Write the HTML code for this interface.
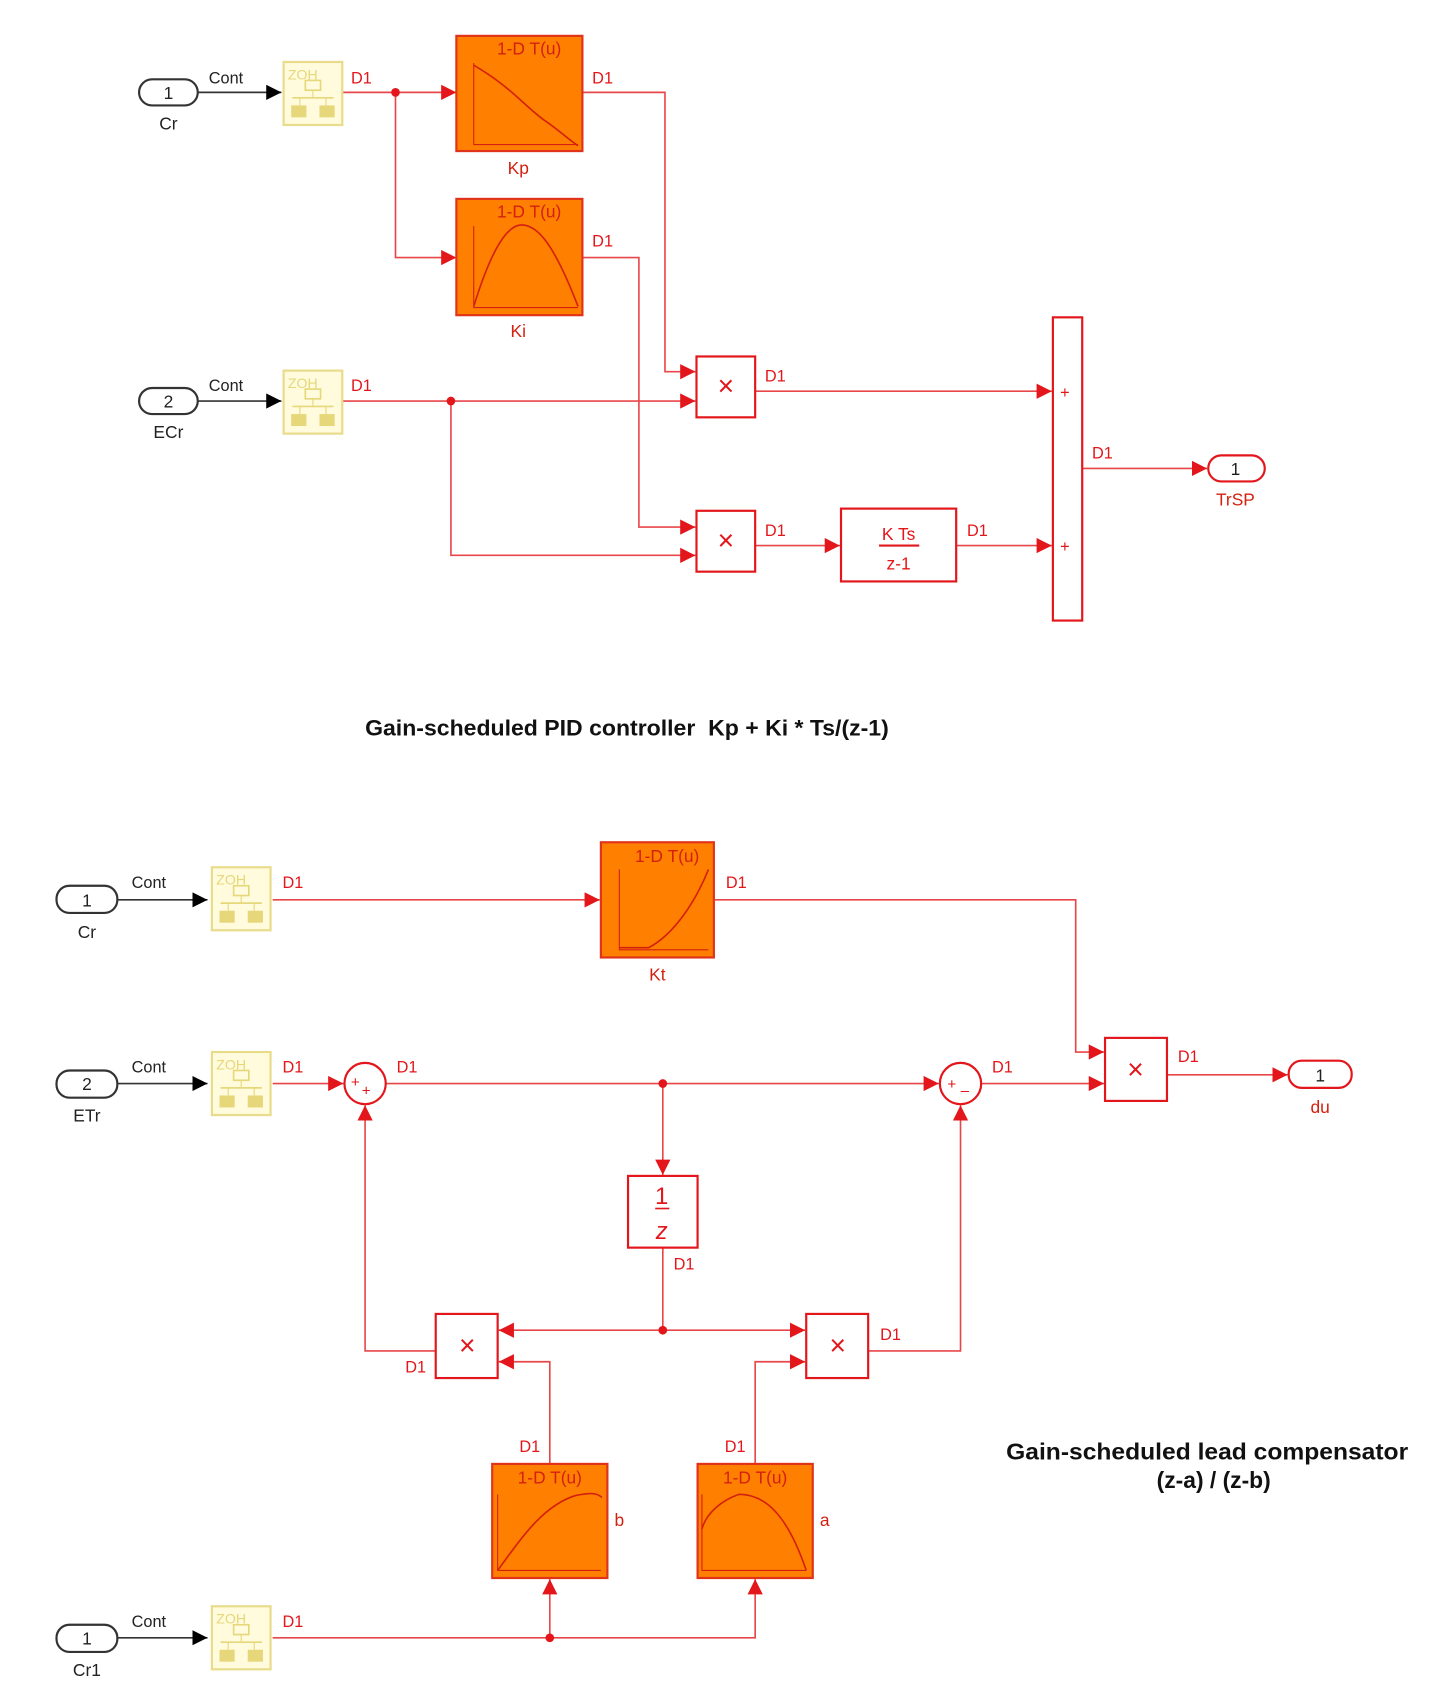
<!DOCTYPE html>
<html><head><meta charset="utf-8"><style>
html,body{margin:0;padding:0;background:#fff;}
svg{display:block;}
text{font-family:"Liberation Sans",sans-serif;}
</style></head><body>
<svg width="1456" height="1703" viewBox="0 0 1340 1567" preserveAspectRatio="none" xmlns="http://www.w3.org/2000/svg">
<defs>
<marker id="ar" viewBox="0 0 10 10" refX="10" refY="5" markerWidth="14" markerHeight="14" markerUnits="userSpaceOnUse" orient="auto"><path d="M0,0 L10,5 L0,10 z" fill="#e3161b"/></marker>
<marker id="ab" viewBox="0 0 10 10" refX="10" refY="5" markerWidth="14" markerHeight="14" markerUnits="userSpaceOnUse" orient="auto"><path d="M0,0 L10,5 L0,10 z" fill="#000"/></marker>
<g id="zoh">
<rect x="0" y="0" width="54" height="58" fill="#fffbdc" stroke="#e8dc8a" stroke-width="2"/>
<text x="4" y="16" font-size="13" fill="#e6d77a">ZOH</text>
<rect x="20" y="17" width="14" height="9" fill="none" stroke="#e6d77a" stroke-width="1.5"/>
<line x1="27" y1="26" x2="27" y2="33" stroke="#e6d77a"/>
<line x1="8" y1="33" x2="46" y2="33" stroke="#e6d77a" stroke-width="1.5"/>
<line x1="15" y1="33" x2="15" y2="40" stroke="#e6d77a"/><line x1="39" y1="33" x2="39" y2="40" stroke="#e6d77a"/>
<rect x="7" y="40" width="14" height="11" fill="#e6d77a"/><rect x="33" y="40" width="14" height="11" fill="#e6d77a"/>
</g>
</defs>
<g fill="none" stroke="#e8474a" stroke-width="1.5">
<path d="M315,85 H420" marker-end="url(#ar)"/>
<path d="M364,85 V237 H420" marker-end="url(#ar)"/>
<path d="M536,85 H612 V342 H640" marker-end="url(#ar)"/>
<path d="M536,237 H588 V485 H640" marker-end="url(#ar)"/>
<path d="M315,369 H640" marker-end="url(#ar)"/>
<path d="M415,369 V511 H640" marker-end="url(#ar)"/>
<path d="M695,360 H968" marker-end="url(#ar)"/>
<path d="M695,502 H773" marker-end="url(#ar)"/>
<path d="M880,502 H968" marker-end="url(#ar)"/>
<path d="M996,431 H1111" marker-end="url(#ar)"/>
<path d="M251,828 H552" marker-end="url(#ar)"/>
<path d="M657,828 H990 V968 H1016" marker-end="url(#ar)"/>
<path d="M251,997 H316" marker-end="url(#ar)"/>
<path d="M355,997 H864" marker-end="url(#ar)"/>
<path d="M610,997 V1081" marker-end="url(#ar)"/>
<path d="M903,997 H1016" marker-end="url(#ar)"/>
<path d="M1074,989 H1185" marker-end="url(#ar)"/>
<path d="M610,1148 V1224 H459" marker-end="url(#ar)"/>
<path d="M610,1224 H741" marker-end="url(#ar)"/>
<path d="M401,1243 H336 V1017" marker-end="url(#ar)"/>
<path d="M799,1243 H884 V1017" marker-end="url(#ar)"/>
<path d="M506,1347 V1253 H459" marker-end="url(#ar)"/>
<path d="M695,1347 V1253 H741" marker-end="url(#ar)"/>
<path d="M251,1507 H695 V1453" marker-end="url(#ar)"/>
<path d="M506,1507 V1453" marker-end="url(#ar)"/>
</g>
<g fill="none" stroke="#333" stroke-width="1.5">
<path d="M182,85 H259" marker-end="url(#ab)"/>
<path d="M182,369 H259" marker-end="url(#ab)"/>
<path d="M108,828 H191" marker-end="url(#ab)"/>
<path d="M108,997 H191" marker-end="url(#ab)"/>
<path d="M108,1507 H191" marker-end="url(#ab)"/>
</g>
<g fill="#e3161b">
<circle cx="364" cy="85" r="4"/><circle cx="415" cy="369" r="4"/>
<circle cx="610" cy="997" r="4"/><circle cx="610" cy="1224" r="4"/><circle cx="506" cy="1507" r="4"/>
</g>
<g stroke="#333" stroke-width="2" fill="#fff">
<rect x="128" y="73" width="54" height="24" rx="12"/>
<rect x="128" y="357" width="54" height="24" rx="12"/>
<rect x="52" y="815" width="56" height="25" rx="12"/>
<rect x="52" y="985" width="56" height="25" rx="12"/>
<rect x="52" y="1495" width="56" height="25" rx="12"/>
</g>
<g stroke="#e3161b" stroke-width="2" fill="#fff">
<rect x="1112" y="419" width="52" height="24" rx="12"/>
<rect x="1186" y="976" width="58" height="25" rx="12"/>
</g>
<g font-size="16" fill="#222" text-anchor="middle">
<text x="155" y="91">1</text><text x="155" y="119">Cr</text>
<text x="155" y="375">2</text><text x="155" y="403">ECr</text>
<text x="80" y="834">1</text><text x="80" y="863">Cr</text>
<text x="80" y="1003">2</text><text x="80" y="1032">ETr</text>
<text x="80" y="1513">1</text><text x="80" y="1542">Cr1</text>
<text x="208" y="77" font-size="15">Cont</text><text x="208" y="360" font-size="15">Cont</text>
<text x="137" y="817" font-size="15">Cont</text><text x="137" y="987" font-size="15">Cont</text><text x="137" y="1497" font-size="15">Cont</text>
</g>
<use href="#zoh" x="261" y="57"/><use href="#zoh" x="261" y="341"/>
<use href="#zoh" x="195" y="798"/><use href="#zoh" x="195" y="968"/><use href="#zoh" x="195" y="1478"/>
<g stroke="#e0331a" stroke-width="2" fill="#ff8000">
<rect x="420" y="33" width="116" height="106"/>
<rect x="420" y="183" width="116" height="107"/>
<rect x="553" y="775" width="104" height="106"/>
<rect x="453" y="1347" width="106" height="105"/>
<rect x="642" y="1347" width="106" height="105"/>
</g>
<g fill="none" stroke="#d42010" stroke-width="1.5">
<path d="M436,58 V133 H532" stroke-width="1"/><path d="M436,60 C470,80 480,95 500,110 C515,120 525,130 532,134"/>
<path d="M436,208 V283 H532" stroke-width="1"/><path d="M436,282 C455,220 470,207 480,207 C495,207 510,225 532,282"/>
<path d="M570,800 V874 H652" stroke-width="1"/><path d="M570,872 H597 C620,860 640,830 652,800"/>
<path d="M458,1375 V1445 H553" stroke-width="1"/><path d="M458,1445 C480,1415 500,1385 530,1376 C545,1373 550,1374 554,1378"/>
<path d="M646,1375 V1445 H742" stroke-width="1"/><path d="M646,1407 C650,1392 665,1380 680,1375 C705,1375 725,1395 742,1445"/>
</g>
<g font-size="16" fill="#d42010" text-anchor="middle">
<text x="487" y="50">1-D T(u)</text><text x="487" y="200">1-D T(u)</text>
<text x="614" y="793">1-D T(u)</text><text x="506" y="1365">1-D T(u)</text><text x="695" y="1365">1-D T(u)</text>
<text x="477" y="160">Kp</text><text x="477" y="310">Ki</text><text x="605" y="902">Kt</text>
<text x="570" y="1404">b</text><text x="759" y="1404">a</text>
<text x="1137" y="437" fill="#222">1</text><text x="1137" y="465">TrSP</text>
<text x="1215" y="995" fill="#222">1</text><text x="1215" y="1024">du</text>
</g>
<g stroke="#e3161b" stroke-width="2" fill="#fff">
<rect x="641" y="328" width="54" height="56"/><rect x="641" y="470" width="54" height="56"/>
<rect x="774" y="468" width="106" height="67"/>
<rect x="969" y="292" width="27" height="279"/>
<rect x="1017" y="955" width="57" height="58"/>
<rect x="578" y="1082" width="64" height="66"/>
<rect x="401" y="1209" width="57" height="59"/><rect x="742" y="1209" width="57" height="59"/>
<circle cx="336" cy="997" r="19"/><circle cx="884" cy="997" r="19"/>
<line x1="809" y1="502" x2="846" y2="502"/>
<line x1="603" y1="1112" x2="616" y2="1112" stroke-width="1.5"/>
</g>
<g fill="#e3161b" font-size="15" text-anchor="middle">
<text x="668" y="364" font-size="26">×</text><text x="668" y="506" font-size="26">×</text>
<text x="1045" y="993" font-size="26">×</text><text x="430" y="1247" font-size="26">×</text><text x="771" y="1247" font-size="26">×</text>
<text x="827" y="497" font-size="16">K Ts</text><text x="827" y="524" font-size="16">z-1</text>
<text x="980" y="366" font-size="15">+</text><text x="980" y="508" font-size="15">+</text>
<text x="327" y="1000" font-size="14">+</text><text x="337" y="1008" font-size="14">+</text>
<text x="876" y="1002" font-size="14">+</text><text x="888" y="1008" font-size="14">–</text>
<text x="609" y="1108" font-size="22" font-family="Liberation Serif">1</text>
<text x="609" y="1140" font-size="22" font-style="italic" font-family="Liberation Serif">z</text>
</g>
<g fill="#e3161b" font-size="15">
<text x="323" y="77">D1</text><text x="545" y="77">D1</text><text x="545" y="227">D1</text>
<text x="323" y="360">D1</text><text x="704" y="351">D1</text><text x="704" y="493">D1</text>
<text x="890" y="493">D1</text><text x="1005" y="422">D1</text>
<text x="260" y="817">D1</text><text x="668" y="817">D1</text><text x="260" y="987">D1</text>
<text x="365" y="987">D1</text><text x="913" y="987">D1</text><text x="1084" y="977">D1</text>
<text x="620" y="1168">D1</text><text x="373" y="1263">D1</text><text x="810" y="1233">D1</text>
<text x="478" y="1336">D1</text><text x="667" y="1336">D1</text><text x="260" y="1497">D1</text>
</g>
<g font-weight="bold" fill="#111" text-anchor="middle">
<text x="577" y="677" font-size="20" textLength="482" lengthAdjust="spacingAndGlyphs" xml:space="preserve">Gain-scheduled PID controller  Kp + Ki * Ts/(z-1)</text>
<text x="1111" y="1343" font-size="21" textLength="370" lengthAdjust="spacingAndGlyphs">Gain-scheduled lead compensator</text>
<text x="1117" y="1369" font-size="21">(z-a) / (z-b)</text>
</g>
</svg>
</body></html>
